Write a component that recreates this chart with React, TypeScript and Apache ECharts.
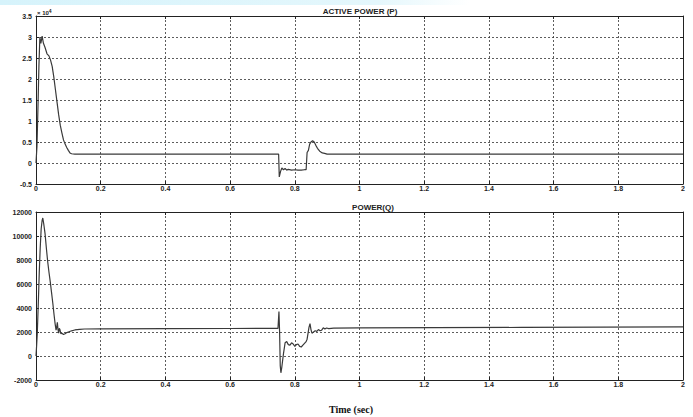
import React, { useEffect, useRef } from "react";
import * as echarts from "echarts";

// Active power P (plotted in units of 10^4)
const pTime = [
  0, 0.003, 0.006, 0.009, 0.012, 0.015, 0.019, 0.023, 0.028, 0.034, 0.04, 0.045,
  0.05, 0.055, 0.06, 0.065, 0.07, 0.075, 0.08, 0.085, 0.09, 0.095, 0.1, 0.105,
  0.11, 0.12, 0.15, 0.3, 0.5, 0.7, 0.75, 0.752, 0.756, 0.76, 0.765, 0.77, 0.775,
  0.78, 0.79, 0.8, 0.81, 0.82, 0.83, 0.835, 0.838, 0.842, 0.846, 0.85, 0.855,
  0.86, 0.865, 0.87, 0.877, 0.885, 0.892, 0.9, 0.91, 1.0, 1.5, 2.0,
];
const pValue = [
  0, 0.4, 1.3, 2.3, 3.0, 2.85, 3.02, 2.85, 2.75, 2.6, 2.55, 2.45,
  2.3, 2.05, 1.75, 1.45, 1.15, 0.9, 0.72, 0.55, 0.45, 0.37, 0.3, 0.24,
  0.22, 0.21, 0.21, 0.21, 0.21, 0.21, 0.21, -0.33, -0.2, -0.12, -0.16, -0.13, -0.17,
  -0.15, -0.17, -0.16, -0.17, -0.17, -0.16, -0.16, 0.25, 0.3, 0.45, 0.5, 0.53,
  0.5, 0.42, 0.35, 0.28, 0.24, 0.23, 0.21, 0.21, 0.21, 0.21, 0.21,
];

// Reactive power Q
const qTime = [
  0, 0.002, 0.004, 0.007, 0.01, 0.013, 0.016, 0.019, 0.021, 0.024, 0.028, 0.032,
  0.036, 0.04, 0.044, 0.048, 0.052, 0.056, 0.059, 0.062, 0.064, 0.066, 0.068,
  0.07, 0.072, 0.074, 0.077, 0.08, 0.085, 0.09, 0.095, 0.1, 0.11, 0.12, 0.135,
  0.15, 0.2, 0.4, 0.6, 0.748, 0.751, 0.753, 0.755, 0.757, 0.76, 0.765, 0.77,
  0.775, 0.78, 0.785, 0.79, 0.795, 0.8, 0.805, 0.81, 0.815, 0.82, 0.825, 0.83,
  0.835, 0.838, 0.841, 0.844, 0.847, 0.85, 0.853, 0.858, 0.863, 0.868, 0.873,
  0.878, 0.883, 0.888, 0.893, 0.898, 0.905, 0.92, 1.0, 1.5, 2.0,
];
const qValue = [
  0, 900, 1900, 4300, 6900, 9000, 10600, 11300, 11500, 11000, 10200, 9000,
  7900, 7000, 6200, 5300, 4400, 3400, 2700, 2150, 2400, 2800, 2200,
  1900, 2300, 2200, 1850, 1900, 1800, 1850, 1950, 2000, 2100, 2170, 2220,
  2250, 2260, 2280, 2290, 2300, 3700, 2000, -800, -1400, -900, 200, 1100,
  1200, 950, 900, 1100, 1000, 800, 950, 1000, 800, 750, 900, 1050,
  1200, 1400, 1900, 2400, 2700, 2200, 1900, 2000, 2100, 2050, 2200,
  2100, 2150, 2350, 2250, 2330, 2280, 2320, 2340, 2380, 2420,
];

const timeTicks = { min: 0, max: 2, interval: 0.2 };
const pTicks = { min: -0.5, max: 3.5, interval: 0.5 };
const qTicks = { min: -2000, max: 12000, interval: 2000 };

const sans = "Liberation Sans, Arial, sans-serif";
const labelFont = {
  fontSize: 7,
  fontWeight: "bold" as const,
  color: "#222",
  fontFamily: sans,
};
// plain numbers, no thousands separators
const plain = (v: number) => String(Number(v.toFixed(4)));
const frameLine = { show: true, lineStyle: { color: "#222", width: 1 } };
const gridLine = { show: true, lineStyle: { color: "#333", width: 0.8, type: [2, 2] as number[] } };
const innerTick = { show: true, inside: true, length: 3, lineStyle: { color: "#222" } };

function xAxes(gridIndex: number) {
  return [
    {
      type: "value", gridIndex, position: "bottom", ...timeTicks,
      axisLine: { ...frameLine, onZero: false },
      axisTick: innerTick,
      axisLabel: { ...labelFont, margin: 1, formatter: plain },
      splitLine: gridLine,
    },
    {
      type: "value", gridIndex, position: "top", ...timeTicks,
      axisLine: { ...frameLine, onZero: false },
      axisTick: innerTick,
      axisLabel: { show: false },
      splitLine: { show: false },
    },
  ];
}

function yAxes(gridIndex: number, ticks: { min: number; max: number; interval: number }) {
  return [
    {
      type: "value", gridIndex, position: "left", ...ticks,
      axisLine: { ...frameLine, onZero: false },
      axisTick: innerTick,
      axisLabel: { ...labelFont, margin: 4, formatter: plain },
      splitLine: gridLine,
    },
    {
      type: "value", gridIndex, position: "right", ...ticks,
      axisLine: { ...frameLine, onZero: false },
      axisTick: innerTick,
      axisLabel: { show: false },
      splitLine: { show: false },
    },
  ];
}

export default function App() {
  const ref = useRef<HTMLDivElement>(null);

  useEffect(() => {
    if (!ref.current) return;
    const chart = echarts.init(ref.current, null, { renderer: "svg" });
    const lineStyle = { color: "#3a3a3a", width: 1.2 };

    chart.setOption({
      animation: false,
      backgroundColor: "#ffffff",
      title: [
        {
          text: "ACTIVE POWER (P)", left: 360, top: 7, padding: 0, textAlign: "center",
          textStyle: { fontSize: 8, fontWeight: "bold", color: "#222", fontFamily: sans },
        },
        {
          text: "POWER(Q)", left: 373, top: 203, padding: 0, textAlign: "center",
          textStyle: { fontSize: 8, fontWeight: "bold", color: "#222", fontFamily: sans },
        },
        {
          text: "Time (sec)", left: 351, top: 404, padding: 0, textAlign: "center",
          textStyle: { fontSize: 10, fontWeight: "bold", color: "#111", fontFamily: "Liberation Serif, Times New Roman, serif" },
        },
      ],
      graphic: [
        {
          type: "rect", left: 0, top: 0, shape: { width: 470, height: 5 }, silent: true,
          style: {
            fill: new echarts.graphic.LinearGradient(0, 0, 1, 0, [
              { offset: 0, color: "#d6f3fb" },
              { offset: 0.8, color: "#e4f7fc" },
              { offset: 1, color: "#ffffff" },
            ]),
          },
        },
        {
          type: "text", left: 37, top: 8, silent: true,
          style: {
            text: "{a|× 10}{b|4}",
            rich: {
              a: { fontSize: 6, fontWeight: "bold", fill: "#222", fontFamily: sans },
              b: { fontSize: 5, fontWeight: "bold", fill: "#222", fontFamily: sans, verticalAlign: "top", padding: [0, 0, 4, 0] },
            },
          },
        },
      ],
      grid: [
        { left: 36, top: 16, width: 647, height: 168 },
        { left: 36, top: 212, width: 647, height: 168 },
      ],
      xAxis: [...xAxes(0), ...xAxes(1)],
      yAxis: [...yAxes(0, pTicks), ...yAxes(1, qTicks)],
      series: [
        {
          type: "line", xAxisIndex: 0, yAxisIndex: 0, showSymbol: false, lineStyle,
          data: pTime.map((t, i) => [t, pValue[i]]),
        },
        {
          type: "line", xAxisIndex: 2, yAxisIndex: 2, showSymbol: false, lineStyle,
          data: qTime.map((t, i) => [t, qValue[i]]),
        },
      ],
    });

    return () => chart.dispose();
  }, []);

  return (
    <div
      ref={ref}
      style={{ position: "fixed", left: 0, top: 0, width: 693, height: 417, background: "#fff" }}
    />
  );
}
